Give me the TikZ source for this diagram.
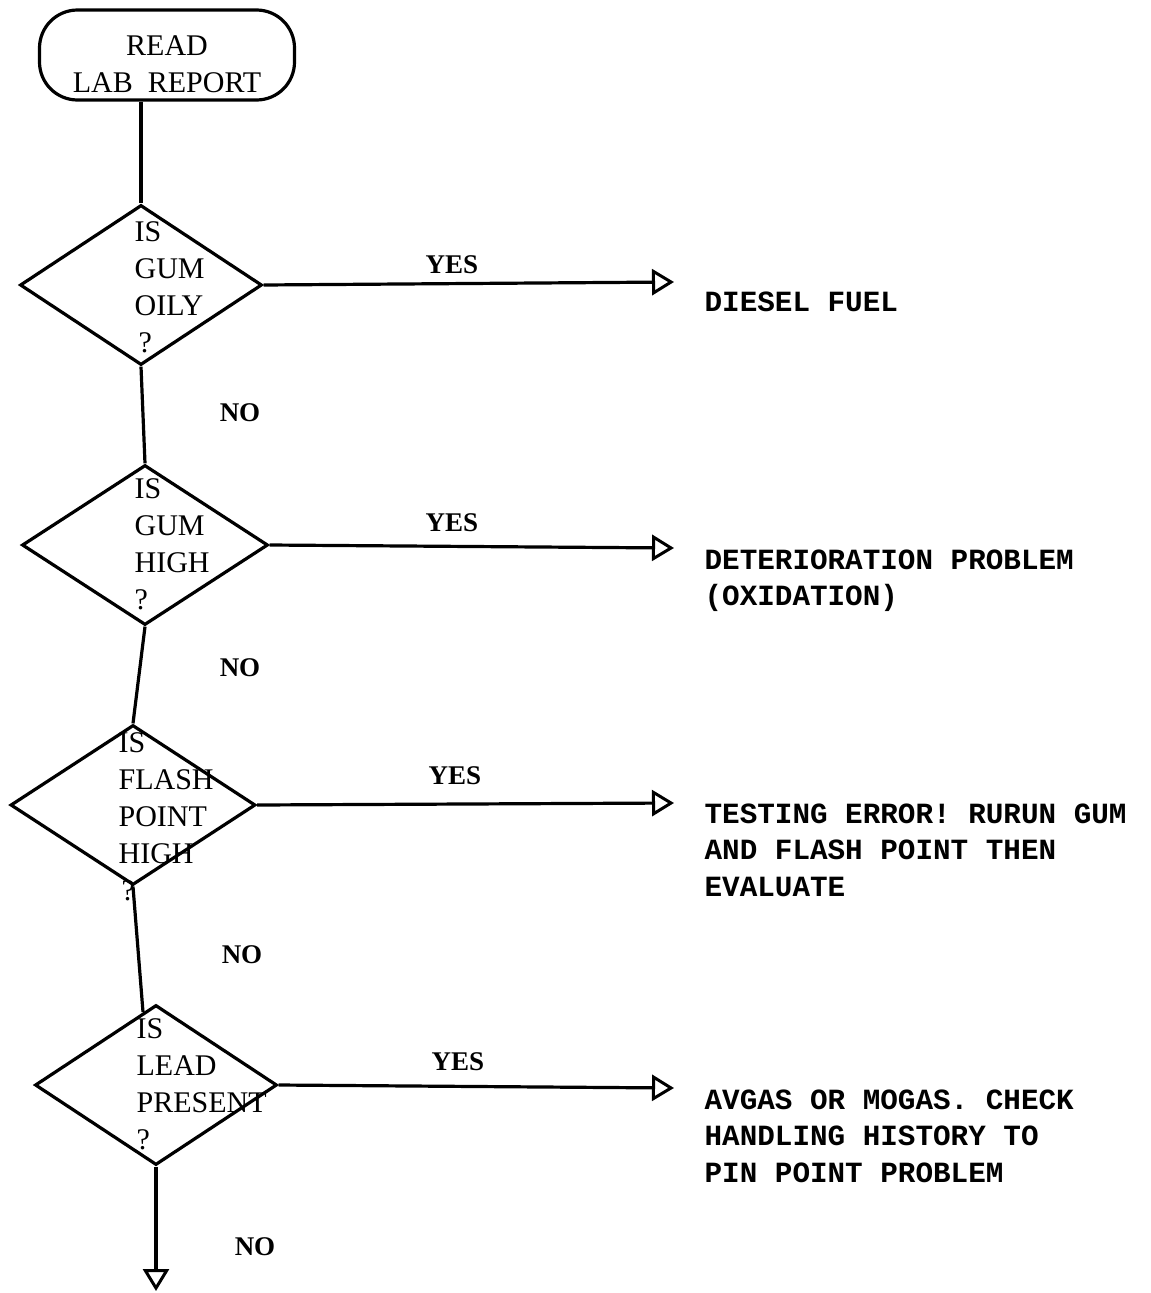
\documentclass[tikz,border=0pt]{standalone}
\usepackage{fontspec}
\setmainfont{Liberation Serif}
\newfontfamily\twfont{Liberation Mono}
\usetikzlibrary{shapes.geometric,arrows.meta}
\begin{document}
\begin{tikzpicture}[x=1pt,y=-1pt,line width=3.2pt,
  decision/.style={draw,shape=diamond,minimum width=#1,minimum height=160pt,inner sep=0pt},
  dtext/.style={anchor=north west,inner sep=0pt,align=left,font=\fontsize{30}{37}\selectfont},
  rtext/.style={anchor=north west,inner sep=0pt,align=left,font=\twfont\bfseries\fontsize{29.3}{36.5}\selectfont},
  lbl/.style={inner sep=0pt,font=\bfseries\fontsize{27}{30}\selectfont},
  tip/.style={-{Triangle[open,length=22pt,width=26pt,line width=3pt]}}]
\useasboundingbox (0,0) rectangle (1151,1293);

% terminal
\node (T) [draw,rounded corners=38pt,minimum width=255pt,minimum height=90pt,inner sep=0pt] at (167,55) {};
\node (Tt) [inner sep=0pt,align=center,font=\fontsize{30}{37}\selectfont] at (167,64) {READ\\LAB\ \ REPORT};

% decisions
\node (D1) [decision=242pt] at (141,285) {};
\node (D2) [decision=246pt] at (145,545) {};
\node (D3) [decision=245pt] at (133,805) {};
\node (D4) [decision=242pt] at (156,1085) {};

\node (t1) [dtext] at (133,220) {IS\\GUM\\OILY\\\hspace*{4pt}?};
\node (t2) [dtext] at (133,477) {IS\\GUM\\HIGH\\?};
\node (t3) [dtext] at (117,731) {IS\\FLASH\\POINT\\HIGH\\\hspace*{3pt}?};
\node (t4) [dtext] at (135,1017) {IS\\LEAD\\PRESENT\\?};

% outcomes
\coordinate (e1) at (674,282);
\coordinate (e2) at (674,548);
\coordinate (e3) at (674,803);
\coordinate (e4) at (674,1088);
\node (r1) [rtext] at (703,290) {DIESEL FUEL};
\node (r2) [rtext] at (703,548) {DETERIORATION PROBLEM\\(OXIDATION)};
\node (r3) [rtext] at (703,802) {TESTING ERROR! RURUN GUM\\AND FLASH POINT THEN\\EVALUATE};
\node (r4) [rtext] at (703,1088) {AVGAS OR MOGAS. CHECK\\HANDLING HISTORY TO\\PIN POINT PROBLEM};

% labels
\node (y1) [lbl] at (452,265) {YES};
\node (y2) [lbl] at (452,523) {YES};
\node (y3) [lbl] at (455,776) {YES};
\node (y4) [lbl] at (458,1062) {YES};
\node (n1) [lbl] at (240,413) {NO};
\node (n2) [lbl] at (240,668) {NO};
\node (n3) [lbl] at (242,955) {NO};
\node (n4) [lbl] at (255,1247) {NO};

% connectors
\draw (D1.north |- T.south) -- (D1.north);
\draw (D1.south) -- (D2.north);
\draw (D2.south) -- (D3.north);
\coordinate (d4in) at (143,1012);
\draw (D3.south) -- (d4in);
\coordinate (endN) at (156,1291);
\draw[tip] (D4.south) -- (endN);

\draw[tip] (D1.east) -- (e1);
\draw[tip] (D2.east) -- (e2);
\draw[tip] (D3.east) -- (e3);
\draw[tip] (D4.east) -- (e4);
\end{tikzpicture}
\end{document}
